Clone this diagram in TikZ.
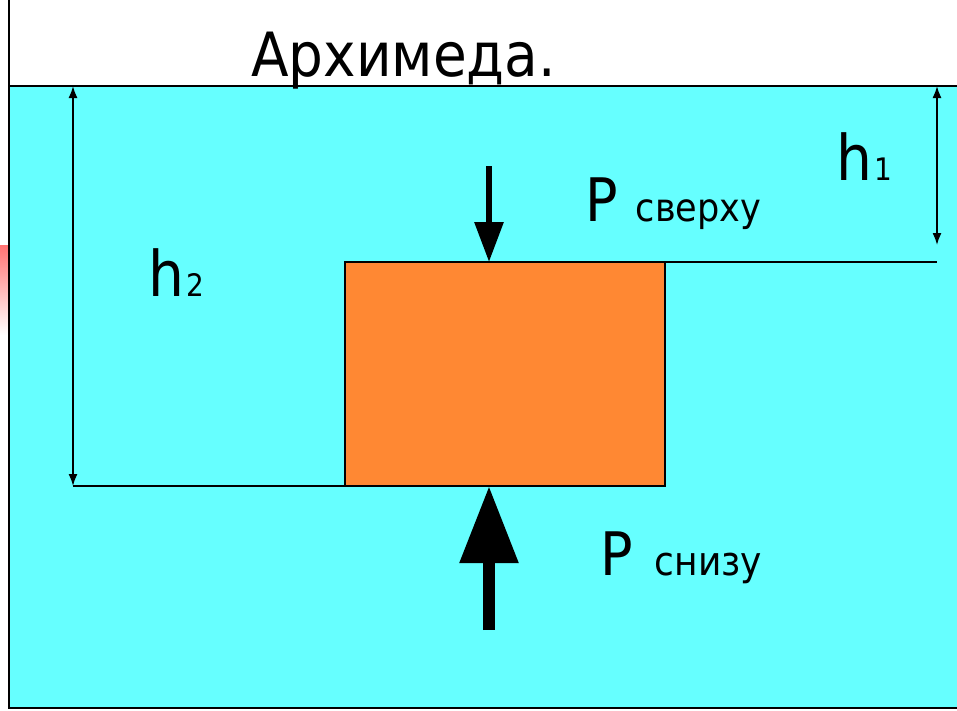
\documentclass[tikz,border=0pt]{standalone}
\usepackage{fontspec}
\setmainfont{DejaVu Sans Condensed}
\usepackage{tikz}
\usetikzlibrary{positioning,arrows.meta,calc}
\usepackage{xcolor}
\definecolor{water}{RGB}{102,255,255}
\definecolor{bodyfill}{RGB}{255,136,51}

\tikzset{
  dimline/.style={line width=1.6pt,{Latex[length=12pt,width=9pt]}-{Latex[length=12pt,width=9pt]}},
  edgeline/.style={line width=2.2pt},
  biglabel/.style={anchor=base west,inner sep=0pt,font=\fontsize{60}{60}\selectfont},
}

\begin{document}
\begin{tikzpicture}[x=1pt,y=-1pt]
\useasboundingbox (0,0) rectangle (957,710);
% water and vessel
\shade[top color=red!55,bottom color=white] (0,245) rectangle (8,335);
\fill[water] (9,86) rectangle (957,708);
\coordinate (wl) at (9,86);
\coordinate (wr) at (957,86);
\draw[edgeline] (wl) -- (wr);
\draw[edgeline] (9,0) -- (9,708) -- (957,708);
\node[anchor=base west,inner sep=0pt,font=\fontsize{61}{61}\selectfont] (title) at (251,76) {Архимеда.};
% body
\node[draw,line width=1.6pt,fill=bodyfill,minimum width=320pt,minimum height=224pt,inner sep=0pt,outer sep=0pt] (body) at (505,374) {};
\coordinate (r1) at (937,262);
\coordinate (l2) at (73,486);
\draw[edgeline] (body.north east) -- (r1);
\draw[edgeline] (body.south west) -- (l2);
% depths
\coordinate (h1top) at (937,86);
\coordinate (h1bot) at (937,245);
\coordinate (h2top) at (73,86);
\draw[dimline] (h1top) -- (h1bot);
\draw[dimline] (h2top) -- (l2);
\node[biglabel,font=\fontsize{63}{63}\selectfont] (h1) at (836,180) {h\hspace{2pt}\fontsize{31}{31}\selectfont 1};
\node[biglabel,font=\fontsize{63}{63}\selectfont] (h2) at (148,296) {h\hspace{2pt}\fontsize{31}{31}\selectfont 2};
% pressure forces
\coordinate (ptop) at (489,166);
\coordinate (pbot) at (489,630);
\draw[line width=6pt,-{Triangle[length=40pt,width=28pt]}] (ptop) -- (body.north -| ptop);
\draw[line width=12pt,-{Triangle[length=77pt,width=56pt]}] (pbot) -- (body.south -| pbot);
\node[biglabel] (pup) at (585,221) {P\hspace{18pt}\fontsize{39}{39}\selectfont сверху};
\node[biglabel] (pdown) at (600,575) {P\hspace{22pt}\fontsize{40}{40}\selectfont снизу};
\end{tikzpicture}
\end{document}
